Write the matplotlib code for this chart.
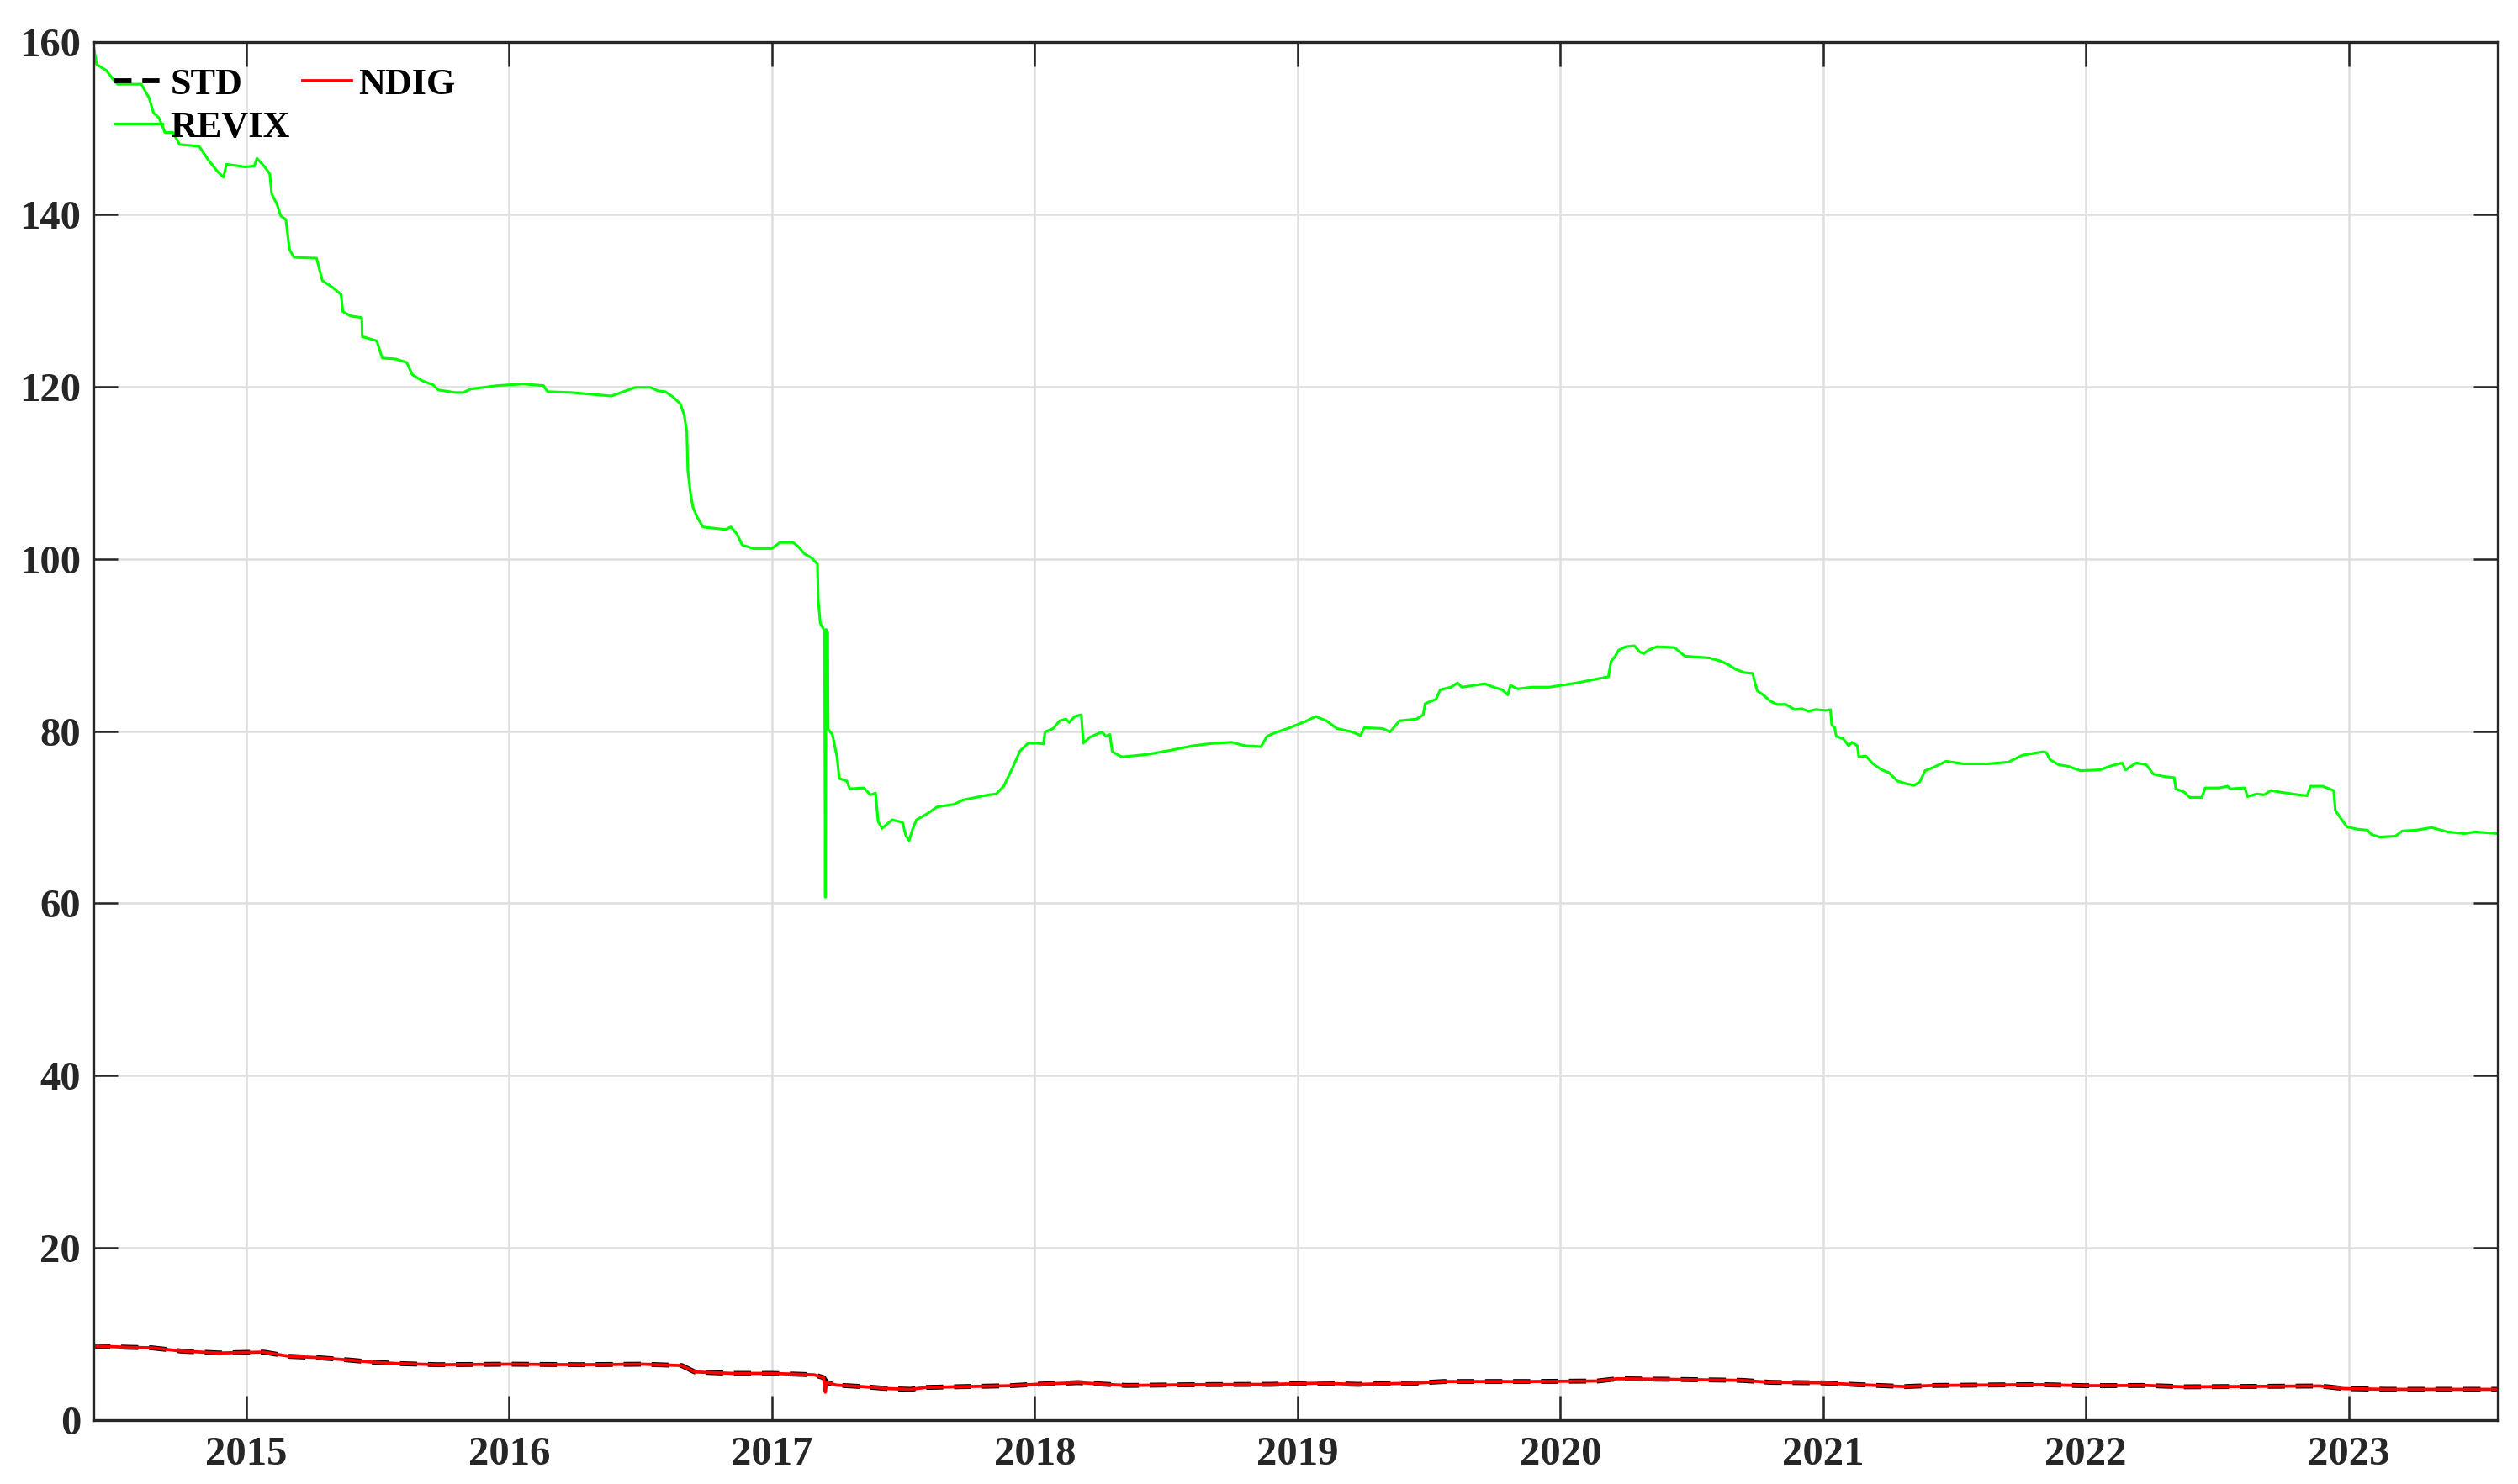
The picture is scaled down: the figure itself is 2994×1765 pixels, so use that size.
"""Index level comparison: STD vs NDIG vs REVIX (MATLAB-style line chart).

Values are read by eye off the reference figure; x is in decimal years.
"""
import matplotlib

matplotlib.use("Agg")
import matplotlib.pyplot as plt  # noqa: E402

# ─── data (decimal year, index level) ──────────────────────────────────────
REVIX = [
    (2014.417, 159.8), (2014.430, 157.4), (2014.467, 156.7), (2014.500, 155.4),
    (2014.510, 155.1), (2014.600, 155.1), (2014.630, 153.5), (2014.646, 151.8),
    (2014.667, 151.2), (2014.690, 149.5), (2014.720, 149.5), (2014.746, 148.1),
    (2014.820, 147.9), (2014.853, 146.4), (2014.889, 145.0), (2014.913, 144.3),
    (2014.924, 145.8), (2014.996, 145.5), (2015.030, 145.6), (2015.040, 146.5),
    (2015.067, 145.6), (2015.089, 144.7), (2015.096, 142.4), (2015.117, 141.1),
    (2015.131, 139.8), (2015.150, 139.4), (2015.164, 135.9), (2015.181, 135.0),
    (2015.267, 134.9), (2015.289, 132.3), (2015.324, 131.6), (2015.360, 130.7),
    (2015.367, 128.7), (2015.396, 128.2), (2015.439, 128.0), (2015.441, 125.8),
    (2015.496, 125.3), (2015.517, 123.3), (2015.567, 123.2), (2015.610, 122.8),
    (2015.631, 121.4), (2015.667, 120.7), (2015.710, 120.2), (2015.731, 119.6),
    (2015.796, 119.3), (2015.825, 119.3), (2015.853, 119.7), (2015.953, 120.1),
    (2016.053, 120.3), (2016.131, 120.1), (2016.146, 119.4), (2016.239, 119.3),
    (2016.389, 118.9), (2016.416, 119.2), (2016.480, 119.9), (2016.537, 119.9),
    (2016.566, 119.5), (2016.594, 119.4), (2016.623, 118.8), (2016.651, 118.0),
    (2016.666, 116.7), (2016.676, 114.7), (2016.680, 110.2), (2016.690, 107.6),
    (2016.699, 106.0), (2016.716, 104.8), (2016.737, 103.7), (2016.823, 103.4),
    (2016.844, 103.7), (2016.866, 102.9), (2016.887, 101.6), (2016.930, 101.2),
    (2017.000, 101.2), (2017.030, 101.9), (2017.080, 101.9), (2017.101, 101.4),
    (2017.123, 100.6), (2017.151, 100.1), (2017.173, 99.4), (2017.176, 95.2),
    (2017.184, 92.5), (2017.195, 91.9), (2017.200, 91.6), (2017.203, 60.7),
    (2017.206, 91.8), (2017.209, 80.5), (2017.211, 91.5), (2017.214, 80.2),
    (2017.230, 79.6), (2017.248, 76.9), (2017.256, 74.5), (2017.285, 74.2),
    (2017.296, 73.3), (2017.350, 73.4), (2017.375, 72.6), (2017.394, 72.8),
    (2017.404, 69.5), (2017.419, 68.7), (2017.457, 69.7), (2017.497, 69.4),
    (2017.509, 67.9), (2017.522, 67.3), (2017.535, 68.6), (2017.550, 69.7),
    (2017.596, 70.5), (2017.628, 71.2), (2017.694, 71.5), (2017.726, 72.0),
    (2017.775, 72.3), (2017.825, 72.6), (2017.853, 72.7), (2017.882, 73.6),
    (2017.915, 75.7), (2017.931, 76.8), (2017.944, 77.7), (2017.975, 78.6),
    (2018.016, 78.6), (2018.033, 78.5), (2018.039, 79.9), (2018.070, 80.3),
    (2018.095, 81.2), (2018.119, 81.4), (2018.131, 81.0), (2018.152, 81.7),
    (2018.177, 81.9), (2018.185, 78.6), (2018.210, 79.3), (2018.255, 79.9),
    (2018.272, 79.4), (2018.286, 79.6), (2018.295, 77.6), (2018.332, 77.0),
    (2018.430, 77.3), (2018.504, 77.7), (2018.602, 78.3), (2018.684, 78.6),
    (2018.750, 78.7), (2018.799, 78.3), (2018.861, 78.2), (2018.884, 79.4),
    (2018.913, 79.8), (2018.962, 80.3), (2018.995, 80.7), (2019.028, 81.1),
    (2019.069, 81.7), (2019.110, 81.2), (2019.150, 80.3), (2019.208, 79.9),
    (2019.240, 79.5), (2019.254, 80.4), (2019.324, 80.3), (2019.352, 79.9),
    (2019.388, 81.2), (2019.453, 81.4), (2019.478, 81.9), (2019.486, 83.2),
    (2019.527, 83.7), (2019.543, 84.8), (2019.584, 85.1), (2019.609, 85.6),
    (2019.625, 85.1), (2019.713, 85.5), (2019.746, 85.1), (2019.779, 84.8),
    (2019.800, 84.2), (2019.810, 85.3), (2019.839, 84.9), (2019.891, 85.1),
    (2019.958, 85.1), (2020.000, 85.3), (2020.064, 85.6), (2020.130, 86.0),
    (2020.183, 86.3), (2020.193, 88.1), (2020.209, 88.7), (2020.222, 89.4),
    (2020.249, 89.8), (2020.282, 89.9), (2020.302, 89.2), (2020.318, 89.0),
    (2020.335, 89.4), (2020.368, 89.8), (2020.434, 89.7), (2020.474, 88.7),
    (2020.567, 88.5), (2020.613, 88.1), (2020.640, 87.7), (2020.666, 87.2),
    (2020.699, 86.8), (2020.732, 86.7), (2020.739, 85.8), (2020.749, 84.7),
    (2020.772, 84.2), (2020.798, 83.5), (2020.825, 83.1), (2020.858, 83.1),
    (2020.892, 82.5), (2020.918, 82.6), (2020.944, 82.3), (2020.971, 82.5),
    (2021.011, 82.4), (2021.028, 82.5), (2021.033, 80.7), (2021.044, 80.4),
    (2021.050, 79.4), (2021.077, 79.1), (2021.097, 78.3), (2021.110, 78.7),
    (2021.130, 78.3), (2021.136, 77.0), (2021.163, 77.1), (2021.190, 76.2),
    (2021.223, 75.5), (2021.249, 75.2), (2021.283, 74.2), (2021.315, 73.9),
    (2021.346, 73.7), (2021.368, 74.1), (2021.388, 75.4), (2021.421, 75.8),
    (2021.468, 76.5), (2021.534, 76.2), (2021.627, 76.2), (2021.705, 76.4),
    (2021.758, 77.2), (2021.837, 77.6), (2021.850, 77.5), (2021.863, 76.7),
    (2021.896, 76.1), (2021.934, 75.9), (2021.980, 75.4), (2022.053, 75.5),
    (2022.099, 76.0), (2022.138, 76.3), (2022.151, 75.5), (2022.191, 76.3),
    (2022.230, 76.1), (2022.257, 75.0), (2022.303, 74.7), (2022.336, 74.6),
    (2022.342, 73.3), (2022.375, 72.9), (2022.395, 72.3), (2022.441, 72.3),
    (2022.454, 73.4), (2022.507, 73.4), (2022.539, 73.6), (2022.550, 73.3),
    (2022.605, 73.4), (2022.615, 72.4), (2022.651, 72.7), (2022.678, 72.6),
    (2022.704, 73.1), (2022.743, 72.9), (2022.809, 72.6), (2022.842, 72.5),
    (2022.855, 73.6), (2022.901, 73.6), (2022.943, 73.1), (2022.949, 70.8),
    (2022.967, 70.0), (2022.993, 68.9), (2023.033, 68.6), (2023.072, 68.5),
    (2023.086, 68.0), (2023.118, 67.7), (2023.178, 67.8), (2023.204, 68.4),
    (2023.257, 68.5), (2023.316, 68.8), (2023.375, 68.3), (2023.441, 68.1),
    (2023.480, 68.3), (2023.566, 68.1),
]

NDIG = [
    (2014.417, 8.62), (2014.550, 8.46), (2014.640, 8.40), (2014.750, 8.03),
    (2014.895, 7.80), (2015.000, 7.87), (2015.066, 7.90), (2015.164, 7.41),
    (2015.262, 7.28), (2015.384, 7.00), (2015.482, 6.73), (2015.580, 6.57),
    (2015.727, 6.44), (2016.000, 6.50), (2016.266, 6.44), (2016.510, 6.50),
    (2016.657, 6.34), (2016.706, 5.60), (2016.853, 5.43), (2017.000, 5.43),
    (2017.160, 5.27), (2017.196, 4.94), (2017.203, 3.25), (2017.208, 4.40),
    (2017.245, 4.07), (2017.343, 3.90), (2017.440, 3.67), (2017.526, 3.58),
    (2017.587, 3.80), (2017.734, 3.90), (2017.908, 4.00), (2018.000, 4.16),
    (2018.165, 4.36), (2018.275, 4.16), (2018.348, 4.03), (2018.640, 4.13),
    (2018.897, 4.16), (2019.080, 4.30), (2019.227, 4.16), (2019.447, 4.30),
    (2019.557, 4.49), (2019.886, 4.49), (2020.143, 4.55), (2020.216, 4.81),
    (2020.400, 4.75), (2020.692, 4.62), (2020.802, 4.39), (2021.000, 4.33),
    (2021.128, 4.13), (2021.311, 3.90), (2021.421, 4.03), (2021.824, 4.13),
    (2022.000, 4.00), (2022.230, 4.03), (2022.377, 3.87), (2022.890, 3.97),
    (2022.982, 3.67), (2023.147, 3.58), (2023.568, 3.58),
]

# STD tracks NDIG almost exactly, minus the one-day dip in March 2017.
STD = [
    (2014.417, 8.62), (2014.550, 8.46), (2014.640, 8.40), (2014.750, 8.03),
    (2014.895, 7.80), (2015.000, 7.87), (2015.066, 7.90), (2015.164, 7.41),
    (2015.262, 7.28), (2015.384, 7.00), (2015.482, 6.73), (2015.580, 6.57),
    (2015.727, 6.44), (2016.000, 6.50), (2016.266, 6.44), (2016.510, 6.50),
    (2016.657, 6.34), (2016.706, 5.60), (2016.853, 5.43), (2017.000, 5.43),
    (2017.160, 5.27), (2017.196, 4.94), (2017.208, 4.40), (2017.245, 4.07),
    (2017.343, 3.90), (2017.440, 3.67), (2017.526, 3.58), (2017.587, 3.80),
    (2017.734, 3.90), (2017.908, 4.00), (2018.000, 4.16), (2018.165, 4.36),
    (2018.275, 4.16), (2018.348, 4.03), (2018.640, 4.13), (2018.897, 4.16),
    (2019.080, 4.30), (2019.227, 4.16), (2019.447, 4.30), (2019.557, 4.49),
    (2019.886, 4.49), (2020.143, 4.55), (2020.216, 4.81), (2020.400, 4.75),
    (2020.692, 4.62), (2020.802, 4.39), (2021.000, 4.33), (2021.128, 4.13),
    (2021.311, 3.90), (2021.421, 4.03), (2021.824, 4.13), (2022.000, 4.00),
    (2022.230, 4.03), (2022.377, 3.87), (2022.890, 3.97), (2022.982, 3.67),
    (2023.147, 3.58), (2023.568, 3.58),
]

YEAR_TICKS = list(range(2015, 2024))
Y_TICKS = list(range(0, 161, 20))
X_RANGE = (2014.417, 2023.568)
Y_RANGE = (0, 160)

# ─── style ────────────────────────────────────────────────────────────────
INK = "#262626"
GRID = "#dfdfdf"

plt.rcParams["font.family"] = ["Liberation Serif", "DejaVu Serif"]
plt.rcParams["font.weight"] = "bold"


def main() -> None:
    fig = plt.figure(figsize=(2995 / 300, 1765 / 300), dpi=300)
    ax = fig.add_axes([0.037, 0.043, 0.9547, 0.9287])

    std_x, std_y = zip(*STD)
    ndig_x, ndig_y = zip(*NDIG)
    rev_x, rev_y = zip(*REVIX)

    # dash lengths are in multiples of the line width
    h_std, = ax.plot(std_x, std_y, color="black", linestyle="--",
                     dashes=(3.5, 2.2), linewidth=1.4, label="STD")
    h_ndig, = ax.plot(ndig_x, ndig_y, color="#ff0000", linewidth=0.9,
                      label="NDIG")
    h_rev, = ax.plot(rev_x, rev_y, color="#00ff00", linewidth=0.75,
                     label="REVIX")

    ax.set_xlim(*X_RANGE)
    ax.set_ylim(*Y_RANGE)
    ax.set_xticks(YEAR_TICKS)
    ax.set_xticklabels([str(y) for y in YEAR_TICKS])
    ax.set_yticks(Y_TICKS)

    ax.grid(True, color=GRID, linewidth=0.6)
    ax.set_axisbelow(True)
    for spine in ax.spines.values():
        spine.set_color(INK)
        spine.set_linewidth(0.8)
    ax.tick_params(direction="in", length=7, width=0.6, colors=INK,
                   labelsize=11.7, top=True, right=True)
    ax.tick_params(axis="x", pad=4.5)
    ax.tick_params(axis="y", pad=3.5)

    # MATLAB fills legend rows first; matplotlib fills columns, so reorder.
    ax.legend([h_std, h_rev, h_ndig], ["STD", "REVIX", "NDIG"], ncol=2,
              loc="upper left", bbox_to_anchor=(-0.002, 1), borderaxespad=0,
              borderpad=0.7, frameon=False, fontsize=10.6,
              handlelength=1.3, handletextpad=0.2, columnspacing=0.35,
              labelspacing=0.25)

    fig.savefig("out.png", dpi=300, facecolor="white")
    plt.close(fig)


if __name__ == "__main__":
    main()
